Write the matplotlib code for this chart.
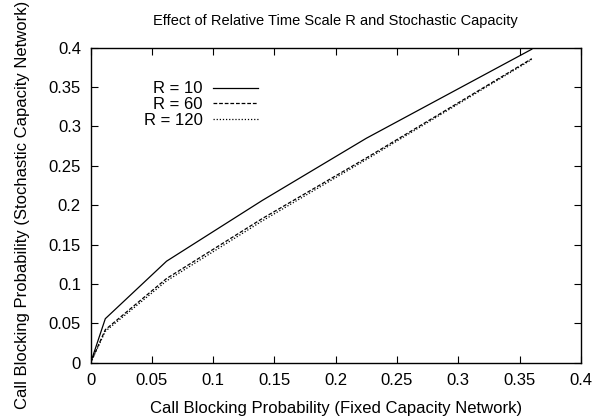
import matplotlib
matplotlib.use('Agg')
import matplotlib.pyplot as plt
from matplotlib.ticker import FuncFormatter, MultipleLocator

plt.rcParams['font.family'] = ['Liberation Sans', 'DejaVu Sans']

x = [0, 0.012, 0.062, 0.14, 0.225, 0.36]
y_r10 = [0, 0.056, 0.129, 0.206, 0.285, 0.398]
y_r60 = [0, 0.042, 0.107, 0.183, 0.260, 0.386]
y_r120 = [0, 0.040, 0.104, 0.180, 0.258, 0.385]

fs = 12
fig = plt.figure(figsize=(6, 4.18), dpi=100)
ax = fig.add_axes([0.151, 0.132, 0.817, 0.754])

ax.plot(x, y_r10, color='black', lw=0.9, label='R = 10')
ax.plot(x, y_r60, color='black', lw=0.9, dashes=(3, 1.5), label='R = 60')
ax.plot(x, y_r120, color='black', lw=0.9, dashes=(1, 1.5), label='R = 120')

ax.set_xlim(0, 0.4)
ax.set_ylim(0, 0.4)
ax.xaxis.set_major_locator(MultipleLocator(0.05))
ax.yaxis.set_major_locator(MultipleLocator(0.05))
fmt = FuncFormatter(lambda v, p: '%g' % round(v, 3))
ax.xaxis.set_major_formatter(fmt)
ax.yaxis.set_major_formatter(fmt)
ax.tick_params(direction='in', top=True, right=True, length=5, width=0.8,
               labelsize=fs, pad=7)
for s in ax.spines.values():
    s.set_linewidth(1.0)

ax.set_title('Effect of Relative Time Scale R and Stochastic Capacity', fontsize=10.5, pad=16)
ax.set_xlabel('Call Blocking Probability (Fixed Capacity Network)', fontsize=fs, labelpad=10)
ax.set_ylabel('Call Blocking Probability (Stochastic Capacity Network)', fontsize=fs, labelpad=13)

ax.legend(loc='upper right', bbox_to_anchor=(0.342, 0.893), frameon=False, markerfirst=False,
          fontsize=fs, handlelength=2.7, handletextpad=0.65, labelspacing=0.05,
          borderaxespad=0, borderpad=0)

fig.savefig('out.png', dpi=100)
